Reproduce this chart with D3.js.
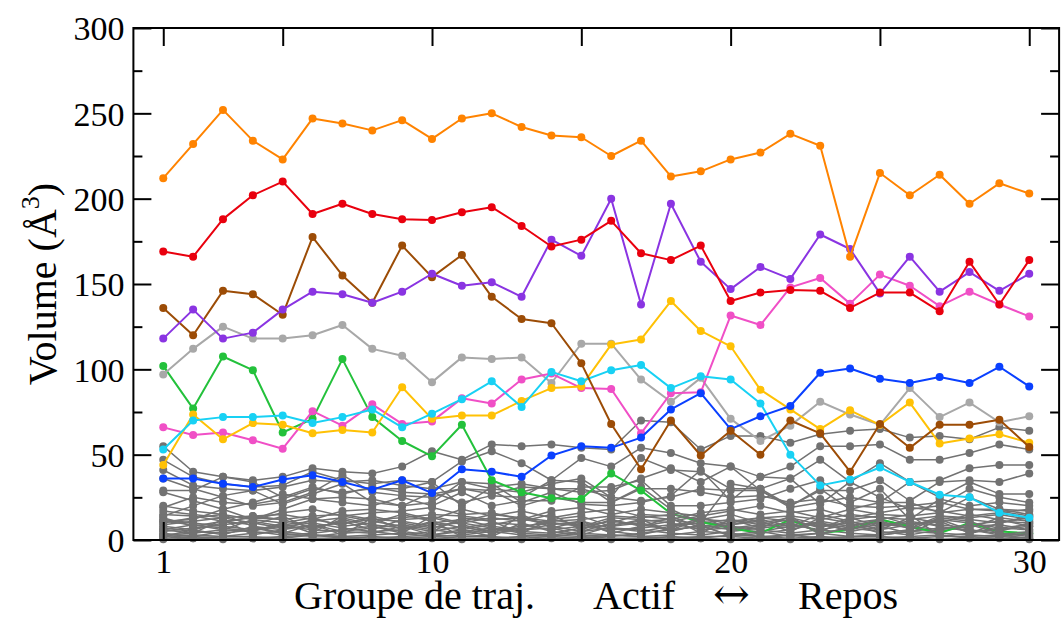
<!DOCTYPE html>
<html>
<head>
<meta charset="utf-8">
<script src="https://cdn.jsdelivr.net/npm/d3@7/dist/d3.min.js"></script>
<style>
  html, body { margin: 0; padding: 0; background: #fff; }
  svg { display: block; }
  text { font-family: "Liberation Serif", "Times New Roman", serif; fill: #000; }
</style>
</head>
<body>
<svg id="chart" width="1061" height="622"></svg>
<script>
// Trajectory groups along the x axis
const groups = [1,2,3,4,5,6,7,8,9,10,11,12,13,14,15,16,17,18,19,20,21,22,23,24,25,26,27,28,29,30];
const xTicks = [1,5,10,15,20,25,30];
const xTickLabels = ["1","","10","","20","","30"];
const yTicks = [0,50,100,150,200,250,300];
const yMinorTicks = [25,75,125,175,225,275];

// Highlighted pockets (volume in cubic angstroms per group)
const orange = [212,232,252,234,223,247,244,240,246,235,247,250,242,237,236,225,234,213,216,223,227,238,231,166,215,202,214,197,209,203];
const red    = [169,166,188,202,210,191,197,191,188,187.5,192,195,184,172,176,187,168,164,172.5,140,145,146.5,146,136,145,145,134,163,138,164];
const purple = [118,135,118,121.5,135,145.5,144,139,145.5,156,149,151,142.5,176,166.5,200,138,197,163,147,160,153,179,170.5,144.5,166,145.5,157,146,156];
const brown  = [136,120,146,144,132,177.5,155,139,172.5,154,167,142.5,129.5,127,103.5,68,41.5,70,49.5,64,50,70,62.5,40,68,54,67.5,67.5,70.5,54.5];
const silver = [97,112,125,118,118,120,126,112,108,92.5,107,106,107,92,115,115,94,81,95,71,58,67,81,73.5,67.5,89,72,80.5,69,72.5];
const green  = [102,77,107.5,99.5,63,71,106,72,58,49,67.5,35,28,24.5,24,39,29,15.5,10.5,7,4,12,4,6,12,8,4,10,5,4];
const cyan   = [53,70,72,72,73,68.5,72,76.5,66,74,82.5,93,78,98.5,93,99.5,102.5,89,96,94,80,50,32,35.5,42.5,34,26.5,25,16,13];
const yellow = [44,73.5,59,68.5,67.5,62.5,64.5,63,89.5,71,73,73,81.5,89,90,114.5,117.5,140,122.5,113.5,88,76.5,65,76,67.5,80.5,56.5,59.5,62,57];
const pink   = [66,61.5,63,58.5,53.5,75.5,67,79.5,68,69.5,83,80,94,97.5,89,88.5,62.5,86,86.5,131.5,126,148,153.5,138.5,155.5,149,137,145.5,138,131];
const blue   = [36,36,33,31,35.5,38,34,29.5,35,27.5,41.5,40,37,49.5,55,54,60,76.5,86,65,72.5,78.5,98,100.5,94.5,92,95.5,92,101.5,90];

// Remaining pockets, drawn in grey
const grey01 = [55,40,37,35,37,42,40,39,43,52,47,56,55,56,54,53,70,69,53,61,61,57,62,64,65,60,61,59,66,64];
const grey02 = [47,37,33,31,32,40,35,33,35,34,46,52,45,35,48,43,54,51,45,43,37,43,55,55,56,47,47,51,56,53];
const grey03 = [41,32,30,29,31,35,34,35,32,30,34,30,28,33,36,25,48,41,40,30,30,36,47,34,45,34,35,42,44,44];
const grey04 = [29,29,37,34,25,31,27,31,28,27,30,27,31,30,28,29,36,42,34,43,29,20,29,29,35,23,34,35,34,39];
const grey05 = [19,25,22,21,24,30,28,30,30,34,20,31,33,30,30,25,23,25,30,29,29,19,22,25,22,34,25,34,27,27];
const grey06 = [14,20,26,29,21,27,33,22,20,22,34,33,22,28,21,20,22,26,41,23,37,36,21,34,25,18,20,30,25,22];
const grey07 = [11,12,18,22,27,24,22,20,25,20,28,20,23,23,31,31,35,20,20,22,24,30,35,22,30,12,24,20,22,20];
const grey08 = [36,30,25,20,22,28,38,28,26,25,30,29,20,25,22,22,30,30,28,25,26,22,24,20,19,20,22,18,18,17];
const grey09 = [28,23,18,12,18,24,25,24,20,28,22,26,25,35,34,22,31,18,10,33,30,20,30,18,22,22,16,25,18,15];
const grey10 = [12,10,8,6,9,11,13,9,7,10,12,8,6,9,11,7,5,8,10,12,9,7,11,8,6,9,12,10,7,9];
const grey11 = [9,11,13,10,7,8,10,12,11,8,6,9,12,10,8,11,9,6,8,10,13,11,8,10,12,8,6,9,11,10];
const grey12 = [7,5,4,6,8,10,7,5,6,9,10,7,5,4,7,9,11,12,9,6,5,8,10,7,9,11,8,5,6,8];
const grey13 = [5,7,9,11,8,6,5,7,9,6,4,6,8,10,9,6,7,9,11,8,6,4,6,9,10,7,5,8,9,6];
const grey14 = [3,4,6,5,3,4,6,8,5,3,5,7,4,3,5,7,6,4,3,5,7,9,6,4,3,5,7,6,4,3];
const grey15 = [2,3,2,4,5,3,2,3,4,2,3,5,3,2,4,3,2,3,5,4,2,3,4,2,3,5,4,3,2,4];
const grey16 = [1,2,1,1,2,3,1,2,1,2,1,1,2,3,2,1,1,2,1,3,2,1,2,1,1,2,3,1,2,1];
const grey17 = [15,14,11,13,12,14,15,12,13,15,14,12,13,11,12,14,13,15,12,11,13,14,12,15,13,12,14,13,15,12];
const grey18 = [10,13,15,8,6,12,9,14,10,7,11,15,13,8,5,10,15,14,7,9,12,8,15,11,6,13,10,15,12,8];
const grey19 = [8,6,10,14,12,7,11,6,12,13,9,5,7,12,14,8,10,6,12,15,10,13,9,6,11,7,14,12,10,14];
const grey20 = [6,9,7,5,10,13,8,10,15,11,7,10,9,6,8,13,12,10,6,7,9,12,7,13,8,10,9,7,13,11];
const grey21 = [4,2,5,7,4,2,4,5,3,5,8,4,6,7,3,2,4,6,8,3,5,2,4,7,5,3,6,9,4,2];
const grey22 = [0.5,1,0.5,1,0.5,1,1,0.5,1,1,0.5,1,0.5,1,1,0.5,1,0.5,1,0.5,1,0.5,1,1,0.5,1,0.5,1,1,0.5];
const grey23 = [13,8,11,9,14,6,12,8,4,14,10,13,11,15,6,12,8,11,14,6,8,10,5,12,14,9,11,4,10,13];
const grey24 = [2,6,3,8,4,9,5,4,8,3,6,2,10,5,3,8,12,5,9,2,4,6,10,5,8,4,12,6,3,5];
const grey25 = [20,17,15,12,16,18,14,16,17,19,15,16,12,17,19,15,18,16,14,17,20,16,18,13,16,19,17,14,16,18];
const grey26 = [17,15,13,14,15,12,17,18,16,12,18,14,17,13,16,18,14,12,16,18,15,17,13,18,15,14,16,18,17,14];
const grey27 = [3,1,2,2,1,3,2,1,2,3,2,2,1,2,1,3,2,1,2,2,1,3,1,2,2,1,2,2,3,1];
const grey28 = [11,9,6,12,10,4,14,11,8,5,13,11,4,12,9,5,3,7,13,9,11,5,13,10,4,6,13,11,5,10];
const grey29 = [6,4,12,3,6,9,3,13,6,11,2,3,15,7,11,4,8,13,4,12,7,14,3,8,12,15,2,4,7,6];

const greyA = [grey01,grey02,grey03,grey04,grey05,grey06,grey07,grey08,grey09,grey10,grey11,grey12,grey13,grey14];
const greyB = [grey15,grey16,grey17,grey18,grey19,grey20,grey21,grey22,grey23,grey24,grey25,grey26,grey27,grey28,grey29];

const GREY = "#727272";
const layers = [
  ...greyA.map(v => ({ values: v, color: GREY, width: 1.5 })),
  { values: green, color: "#23c13b", width: 2 },
  ...greyB.map(v => ({ values: v, color: GREY, width: 1.5 })),
  { values: silver, color: "#a8a8a8", width: 2 },
  { values: pink,   color: "#f04fc6", width: 2 },
  { values: yellow, color: "#ffc105", width: 2 },
  { values: cyan,   color: "#18d1f4", width: 2 },
  { values: blue,   color: "#0a40ff", width: 2 },
  { values: brown,  color: "#9c4c06", width: 2 },
  { values: purple, color: "#8a34e2", width: 2 },
  { values: red,    color: "#e9000e", width: 2 },
  { values: orange, color: "#ff8300", width: 2 }
];

const svg = d3.select("#chart");
const x = d3.scaleLinear().domain([0, 31]).range([133.4, 1059.1]);
const y = d3.scaleLinear().domain([0, 300]).range([540, 28]);

const plot = svg.append("g");
const line = d3.line().x((d, i) => x(groups[i])).y(d => y(d));

layers.forEach(s => {
  const g = plot.append("g");
  g.append("path")
    .datum(s.values)
    .attr("fill", "none")
    .attr("stroke", s.color)
    .attr("stroke-width", s.width)
    .attr("stroke-linejoin", "round")
    .attr("d", line);
  g.selectAll("circle")
    .data(s.values)
    .join("circle")
    .attr("cx", (d, i) => x(groups[i]))
    .attr("cy", d => y(d))
    .attr("r", 4)
    .attr("fill", s.color);
});

// Frame
svg.append("rect")
  .attr("x", x(0)).attr("y", y(300))
  .attr("width", x(31) - x(0)).attr("height", y(0) - y(300))
  .attr("fill", "none").attr("stroke", "#000").attr("stroke-width", 2);

// Inward ticks on all four sides
const axisColor = "#000";
const MAJ = 18, MIN = 9;
function tickAxis(axisGen, transform) {
  const g = svg.append("g").attr("transform", transform).call(axisGen);
  g.select(".domain").remove();
  g.selectAll(".tick line").attr("stroke", axisColor).attr("stroke-width", 2);
  return g;
}
// bottom (only labelled ticks keep a text element)
const gb = tickAxis(d3.axisBottom(x).tickValues(xTicks).tickSizeInner(-MAJ).tickSizeOuter(0)
  .tickFormat((d, i) => xTickLabels[i]), `translate(0,${y(0)})`);
gb.selectAll(".tick text").filter(function () { return this.textContent === ""; }).remove();
gb.selectAll(".tick text").attr("y", 0).attr("dy", 0).attr("transform", "translate(0,33)")
  .style("font-size", "34px").style("font-family", "'Liberation Serif', serif").attr("fill", "#000");
// top
const gt = tickAxis(d3.axisTop(x).tickValues(xTicks).tickSizeInner(-MAJ).tickSizeOuter(0).tickFormat(""), `translate(0,${y(300)})`);
gt.selectAll(".tick text").remove();
// left major + labels
const gl = tickAxis(d3.axisLeft(y).tickValues(yTicks).tickSizeInner(-MAJ).tickSizeOuter(0).tickFormat(d3.format("d")), `translate(${x(0)},0)`);
gl.selectAll(".tick text").attr("x", -9).attr("dy", "0.35em")
  .style("font-size", "34px").style("font-family", "'Liberation Serif', serif").attr("fill", "#000");
tickAxis(d3.axisLeft(y).tickValues(yMinorTicks).tickSizeInner(-MIN).tickSizeOuter(0).tickFormat(""), `translate(${x(0)},0)`)
  .selectAll(".tick text").remove();
// right
tickAxis(d3.axisRight(y).tickValues(yTicks).tickSizeInner(-MAJ).tickSizeOuter(0).tickFormat(""), `translate(${x(31)},0)`)
  .selectAll(".tick text").remove();
tickAxis(d3.axisRight(y).tickValues(yMinorTicks).tickSizeInner(-MIN).tickSizeOuter(0).tickFormat(""), `translate(${x(31)},0)`)
  .selectAll(".tick text").remove();

// Axis titles
const yTitle = svg.append("text")
  .attr("transform", `translate(56,${(y(0) + y(300)) / 2}) rotate(-90)`)
  .attr("text-anchor", "middle")
  .style("font-size", "40px");
yTitle.append("tspan").text("Volume (Å");
yTitle.append("tspan").attr("dy", -17).style("font-size", "26px").text("3");
yTitle.append("tspan").attr("dy", 17).text(")");

const xTitleY = 609;
[["Groupe de traj.", 294, "'Liberation Serif', serif", 40],
 ["Actif", 593, "'Liberation Serif', serif", 40],
 ["↔", 713, "'DejaVu Serif', serif", 44],
 ["Repos", 798, "'Liberation Serif', serif", 40]].forEach(([t, px, ff, fs]) => {
  svg.append("text").attr("x", px).attr("y", xTitleY)
    .style("font-family", ff).style("font-size", fs + "px").text(t);
});
</script>
</body>
</html>
